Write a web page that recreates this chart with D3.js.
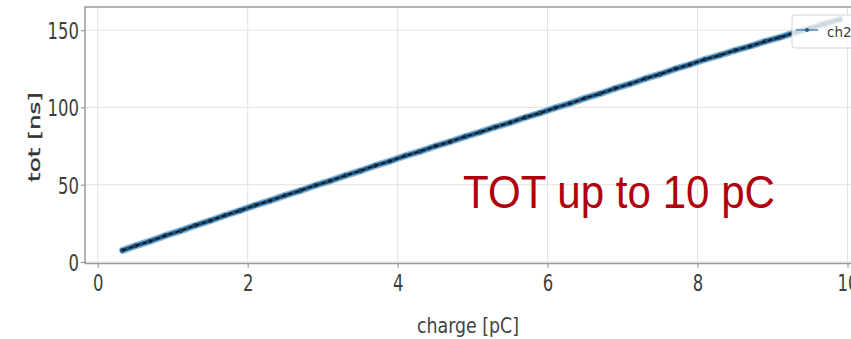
<!DOCTYPE html>
<html>
<head>
<meta charset="utf-8">
<script src="https://cdn.jsdelivr.net/npm/d3@7"></script>
<style>
  html, body { margin: 0; padding: 0; background: #fff; overflow: hidden; }
  svg { display: block; }
</style>
</head>
<body>
<svg id="chart" width="851" height="339"></svg>
<script>
// Time-over-threshold vs injected charge, channel 20
const charge = [0.33, 0.5, 0.7, 0.9, 1.1, 1.3, 1.5, 1.7, 1.9, 2.1, 2.3, 2.5, 2.7, 2.9,
  3.1, 3.3, 3.5, 3.7, 3.9, 4.1, 4.3, 4.5, 4.7, 4.9, 5.1, 5.3, 5.5, 5.7, 5.9, 6.1, 6.3,
  6.5, 6.7, 6.9, 7.1, 7.3, 7.5, 7.7, 7.9, 8.1, 8.3, 8.5, 8.7, 8.9, 9.1, 9.3, 9.5, 9.7, 9.9];
const tot = [7.5, 10.4, 13.5, 17.0, 20.1, 23.6, 26.7, 30.2, 33.3, 36.7, 39.7, 43.1, 46.1, 49.5,
  52.5, 55.9, 58.9, 62.3, 65.3, 68.7, 71.6, 74.9, 77.8, 81.1, 84.0, 87.3, 90.2, 93.5, 96.4,
  99.7, 102.6, 106.0, 108.9, 112.3, 115.2, 118.6, 121.5, 124.9, 127.8, 131.1, 133.8, 136.9,
  139.6, 142.7, 145.4, 148.5, 151.1, 154.2, 157.0];
const xTicks = [0, 2, 4, 6, 8, 10];
const yTicks = [0, 50, 100, 150];
const seriesName = "ch20";
const note = "TOT up to 10 pC";

const svg = d3.select("#chart");
const padLeft = 85, padTop = 7, axisY = 263.5, padRight = 885;

const x = d3.scaleLinear().domain([-0.17, 10.5]).range([padLeft, padRight]);
const y = d3.scaleLinear().domain([-1, 165]).range([axisY, padTop]);

const tickFont = "'DejaVu Sans', sans-serif";
const inkColor = "#3d3d3d";

// grid
svg.append("g").selectAll("line").data(xTicks).join("line")
  .attr("x1", d => x(d)).attr("x2", d => x(d))
  .attr("y1", padTop).attr("y2", axisY)
  .attr("stroke", "#e2e2e2").attr("stroke-width", 1);
svg.append("g").selectAll("line").data(yTicks).join("line")
  .attr("x1", padLeft).attr("x2", padRight)
  .attr("y1", d => y(d)).attr("y2", d => y(d))
  .attr("stroke", "#e2e2e2").attr("stroke-width", 1);

// frame
svg.append("rect")
  .attr("x", padLeft).attr("y", padTop)
  .attr("width", padRight - padLeft).attr("height", axisY - padTop)
  .attr("fill", "none").attr("stroke", "#9a9a9a").attr("stroke-width", 1.5);

// axes
const xAxis = svg.append("g").attr("transform", `translate(0,${axisY})`)
  .call(d3.axisBottom(x).tickValues(xTicks).tickSize(4).tickFormat(d3.format("d")));
const yAxis = svg.append("g").attr("transform", `translate(${padLeft},0)`)
  .call(d3.axisLeft(y).tickValues(yTicks).tickSize(4).tickFormat(d3.format("d")));
[xAxis, yAxis].forEach(a => {
  a.select(".domain").remove();
  a.selectAll(".tick line").attr("stroke", "#9a9a9a").attr("stroke-width", 1.2);
  a.selectAll(".tick text")
    .attr("font-family", tickFont).attr("font-size", 23.5)
    .attr("fill", inkColor);
});
xAxis.selectAll(".tick text")
  .attr("y", 0).attr("dy", 0)
  .attr("transform", "translate(0,27) scale(0.7,1)");
yAxis.selectAll(".tick text")
  .attr("x", 0).attr("dy", 0)
  .attr("transform", "translate(-6,8.5) scale(0.7,1)");

// axis titles
svg.append("text")
  .attr("x", 417).attr("y", 333)
  .attr("font-family", tickFont).attr("font-size", 20.5)
  .attr("textLength", 102).attr("lengthAdjust", "spacingAndGlyphs")
  .attr("fill", "#444").text("charge [pC]");
svg.append("text")
  .attr("transform", "translate(40,137) rotate(-90)")
  .attr("text-anchor", "middle")
  .attr("font-family", tickFont).attr("font-size", 16.5)
  .attr("textLength", 90).attr("lengthAdjust", "spacingAndGlyphs")
  .attr("fill", "#333").attr("stroke", "#333").attr("stroke-width", 0.3)
  .text("tot [ns]");

// data: blue line with markers, dashed black overlay
const pts = charge.map((c, i) => [c, tot[i]]);
const line = d3.line().x(d => x(d[0])).y(d => y(d[1]));
const plot = svg.append("g");
plot.append("path").datum(pts).attr("d", line)
  .attr("fill", "none").attr("stroke", "#5f9dca").attr("stroke-width", 7)
  .attr("stroke-opacity", 0.75)
  .attr("stroke-linecap", "round").attr("stroke-linejoin", "round");
plot.append("path").datum(pts).attr("d", line)
  .attr("fill", "none").attr("stroke", "#1f5680").attr("stroke-width", 4)
  .attr("stroke-linecap", "round").attr("stroke-linejoin", "round");
plot.selectAll("circle").data(pts).join("circle")
  .attr("cx", d => x(d[0])).attr("cy", d => y(d[1])).attr("r", 2.4)
  .attr("fill", "#17476d");
plot.append("path").datum(pts).attr("d", line)
  .attr("fill", "none").attr("stroke", "#0c0c0c").attr("stroke-width", 1.4)
  .attr("stroke-dasharray", "4,3");

// annotation
svg.append("text")
  .attr("x", 463).attr("y", 208)
  .attr("font-family", "'Liberation Sans', Arial, sans-serif").attr("font-size", 46)
  .attr("textLength", 312).attr("lengthAdjust", "spacingAndGlyphs")
  .attr("fill", "#b0000c").text(note);

// legend
const lg = svg.append("g");
lg.append("rect").attr("x", 792).attr("y", 15).attr("width", 80).attr("height", 33)
  .attr("rx", 3).attr("fill", "#fff").attr("fill-opacity", 0.8)
  .attr("stroke", "#d4d4d4").attr("stroke-width", 1);
lg.append("line").attr("x1", 796).attr("x2", 818).attr("y1", 30).attr("y2", 30)
  .attr("stroke", "#5a8fb8").attr("stroke-width", 1.6);
lg.append("circle").attr("cx", 807).attr("cy", 30).attr("r", 2).attr("fill", "#1c5f8e");
lg.append("text").attr("x", 827).attr("y", 37)
  .attr("font-family", tickFont).attr("font-size", 13.5)
  .attr("fill", inkColor).text(seriesName);
</script>
</body>
</html>
